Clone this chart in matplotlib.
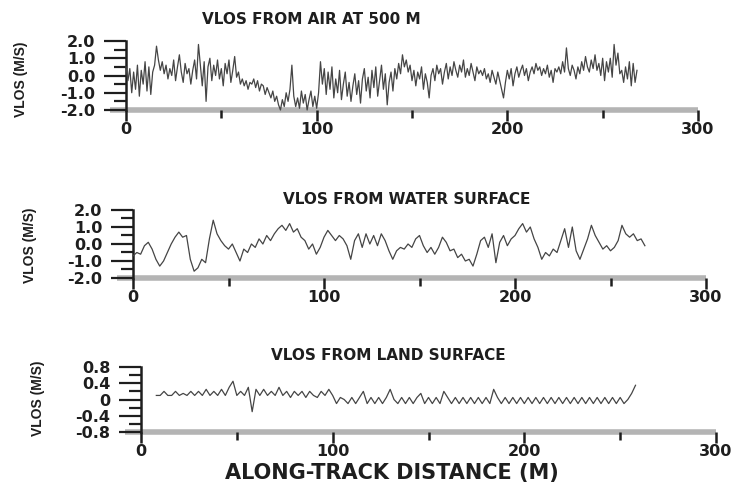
import numpy as np
import matplotlib
matplotlib.use("Agg")
import matplotlib.pyplot as plt
from matplotlib.ticker import MultipleLocator, FixedLocator

# ---------------- data ----------------
air_start, air_step = 0.0, 1.0
air_vlos = [
    0.5, -0.3, 0.4, -1.0, 0.2, -0.8, 0.6, -1.2, 0.3, -0.5,
    0.8, -0.9, 0.5, -1.1, 0.2, 0.6, 1.7, 0.9, 0.3, 0.8,
    0.1, 0.6, -0.2, 0.4, 0.0, 0.9, -0.3, 0.5, 1.2, 0.2,
    -0.4, 0.7, 0.1, 0.4, -0.5, 0.3, 0.9, -0.2, 1.8, 0.6,
    -0.6, 0.8, -1.5, 0.5, 1.0, -0.3, 0.6, 0.0, 0.9, -0.2,
    0.4, -0.6, 0.7, 0.1, 0.9, -0.4, 0.3, 1.1, -0.1, 0.2,
    -0.5, -0.2, -0.6, -0.3, -0.8, -0.4, -0.5, -0.2, -0.7, -0.3,
    -0.9, -0.5, -0.6, -1.1, -0.7, -1.0, -1.3, -0.9, -1.5, -1.2,
    -1.7, -2.0, -1.4, -1.8, -1.0, -1.5, -0.8, 0.6, -1.2, -1.8,
    -1.3, -1.9, -0.9, -1.6, -1.1, -2.0, -1.4, -0.9, -1.8, -1.2,
    -1.9, -1.0, 0.8, -0.5, 0.4, -1.1, 0.2, -0.8, 0.5, -1.3,
    -0.2, -1.0, 0.3, -1.4, -0.5, 0.2, -1.2, -0.4, -1.5, -0.6,
    0.1, -1.1, -0.3, -1.6, -0.2, 0.4, -0.9, -0.1, -1.3, 0.3,
    -0.7, 0.5, -1.2, -0.3, 0.6, -0.8, 0.1, -1.7, -0.4, 0.2,
    -0.9, 0.4, -0.2, 0.7, 0.1, 1.2, 0.5, 0.9, 0.2, 0.6,
    -0.3, 0.3, -0.6, 0.2, -0.2, 0.5, -0.8, 0.1, -0.4, -1.3,
    0.0, 0.4, -0.3, 0.6, 0.1, 0.4, -0.5, 0.2, 0.7, -0.2,
    0.5, 0.0, 0.8, 0.3, -0.1, 0.6, 0.2, 0.9, -0.1, 0.4,
    0.0, 0.7, 0.2, -0.3, 0.5, 0.1, 0.3, 0.0, 0.4, -0.2,
    0.1, -0.4, 0.3, -0.1, -0.5, 0.2, -0.3, -0.8, -1.3, -0.4,
    0.3, -0.2, 0.4, -0.6, 0.1, 0.5, -0.1, 0.3, 0.6, 0.0,
    0.4, -0.3, 0.2, 0.5, 0.1, 0.7, 0.3, 0.5, 0.0, 0.4,
    0.1, 0.6, -0.1, 0.3, -0.4, 0.4, 0.2, 0.5, 0.1, 0.8,
    0.2, 1.6, 0.4, 0.0, 0.6, 0.3, -0.2, 0.5, 0.1, 0.8,
    0.3, 1.1, 0.5, 0.2, 0.9, 0.4, 1.2, 0.3, 0.7, 0.0,
    1.0, -0.3, 0.8, 0.2, 1.0, -0.1, 1.8, 0.6, 1.3, 0.1,
    0.3, -0.4, 0.5, -0.2, 0.8, -0.6, 0.7, -0.4, 0.3,
]

water_start, water_step = 0.0, 2.0
water_vlos = [
    -0.7, -0.5, -0.6, -0.1, 0.1, -0.3, -0.9, -1.3, -1.0, -0.5,
    0.0, 0.4, 0.7, 0.4, 0.5, -0.9, -1.6, -1.4, -0.9, -1.1,
    0.3, 1.4, 0.6, 0.2, -0.1, -0.3, 0.0, -0.5, -1.0, -0.3,
    -0.5, 0.0, -0.2, 0.3, 0.0, 0.5, 0.2, 0.6, 0.9, 1.1,
    0.8, 1.2, 0.7, 0.9, 0.4, 0.2, -0.3, 0.0, -0.6, -0.2,
    0.4, 0.8, 0.5, 0.2, 0.5, 0.3, -0.1, -0.9, 0.2, 0.6,
    -0.2, 0.6, 0.0, 0.5, -0.1, 0.6, 0.2, -0.4, -0.9, -0.4,
    -0.2, -0.3, 0.0, -0.2, 0.3, 0.5, -0.1, -0.5, -0.2, -0.6,
    -0.2, 0.4, 0.1, -0.4, -0.3, -0.8, -0.6, -1.0, -0.9, -1.3,
    -0.6, 0.2, 0.4, -0.2, 0.6, -1.1, 0.1, 0.5, -0.1, 0.3,
    0.5, 0.9, 1.2, 0.7, 1.0, 0.3, -0.2, -0.9, -0.5, -0.7,
    -0.3, -0.5, 0.2, 0.9, -0.2, 1.0, -0.4, -0.9, -0.3, 0.3,
    1.1, 0.5, 0.1, -0.3, -0.1, -0.4, -0.2, 0.2, 1.1, 0.6,
    0.4, 0.6, 0.2, 0.3, -0.1,
]

land_start, land_step = 8.0, 2.0
land_vlos = [
    0.1, 0.1, 0.2, 0.1, 0.1, 0.2, 0.1, 0.15, 0.1, 0.2,
    0.1, 0.2, 0.1, 0.25, 0.1, 0.2, 0.1, 0.25, 0.1, 0.3,
    0.45, 0.1, 0.2, 0.1, 0.3, -0.3, 0.25, 0.1, 0.25, 0.1,
    0.2, 0.1, 0.3, 0.1, 0.2, 0.05, 0.2, 0.1, 0.2, 0.05,
    0.2, 0.1, 0.05, 0.2, 0.1, 0.25, 0.1,
    -0.1, 0.05, 0.0, -0.1, 0.05, -0.1, 0.05, 0.2, -0.1, 0.05,
    -0.1, 0.05, -0.1, 0.05, 0.25, 0.0, -0.1, 0.05, -0.1, 0.05,
    -0.1, 0.05, 0.15, -0.1, 0.05, -0.1, 0.05, -0.1, 0.2, 0.05,
    -0.1, 0.05, -0.1, 0.05, -0.1, 0.05, -0.1, 0.05, -0.1, 0.05,
    -0.1, 0.25, 0.05, -0.1, 0.05, -0.1, 0.05, -0.1, 0.05, -0.1,
    0.05, -0.1, 0.05, -0.1, 0.05, -0.1, 0.05, -0.1, 0.05, -0.1,
    0.05, -0.1, 0.05, -0.1, 0.05, -0.1, 0.05, -0.1, 0.05, -0.1,
    0.05, -0.1, 0.05, -0.1, 0.05, -0.1, 0.0, 0.15, 0.35,
]

titles = ["VLOS FROM AIR AT 500 M", "VLOS FROM WATER SURFACE", "VLOS FROM LAND SURFACE"]
ylabel = "VLOS (M/S)"
xlabel = "ALONG-TRACK DISTANCE (M)"
xticks = [0, 100, 200, 300]
yticks_big = [-2.0, -1.0, 0.0, 1.0, 2.0]
yticklabels_big = ["-2.0", "-1.0", "0.0", "1.0", "2.0"]
yticks_land = [-0.8, -0.4, 0.0, 0.4, 0.8]
yticklabels_land = ["-0.8", "-0.4", "0", "0.4", "0.8"]

# ---------------- figure ----------------
W, H = 736, 493
fig = plt.figure(figsize=(W / 100, H / 100), dpi=100)
WIDE = "DejaVu Sans"
NARROW = "Liberation Sans"
INK = "#1e1e1e"


def px_axes(l, r, t, b):
    return fig.add_axes([l / W, 1 - b / H, (r - l) / W, (b - t) / H])


panels = [
    dict(box=(126, 698, 41, 110), start=air_start, step=air_step, y=air_vlos,
         ylim=(-2, 2), yt=yticks_big, ytl=yticklabels_big, minor=0.5,
         title_xy=(311, 20), ylab_xy=(21, 79)),
    dict(box=(133, 706, 210, 278), start=water_start, step=water_step, y=water_vlos,
         ylim=(-2, 2), yt=yticks_big, ytl=yticklabels_big, minor=0.5,
         title_xy=(407, 199), ylab_xy=(30, 245)),
    dict(box=(141, 716, 367, 432), start=land_start, step=land_step, y=land_vlos,
         ylim=(-0.8, 0.8), yt=yticks_land, ytl=yticklabels_land, minor=0.2,
         title_xy=(388, 355), ylab_xy=(38, 398)),
]

YTICK_LEN = 16
for i, p in enumerate(panels):
    ax = px_axes(*p["box"])
    l, r, t, b = p["box"]
    yv = np.array(p["y"])
    xv = p["start"] + p["step"] * np.arange(len(yv))
    ax.plot(xv, yv, color="#454545", lw=0.9, clip_on=False, zorder=3)
    ax.set_xlim(0, 300)
    ax.set_ylim(*p["ylim"])
    for s in ("top", "right", "bottom"):
        ax.spines[s].set_visible(False)
    ax.spines["left"].set_linewidth(1.8)
    ax.spines["left"].set_color(INK)
    # thick grey base line, running from the end of the y ticks to x = 300
    ax.plot([-YTICK_LEN / (r - l), 1.0], [0, 0], transform=ax.transAxes,
            color="#b4b4b4", lw=4.0, clip_on=False, zorder=1, solid_capstyle="butt")
    ax.set_xticks(xticks)
    ax.xaxis.set_minor_locator(FixedLocator([50, 150, 250]))
    ax.set_yticks(p["yt"])
    ax.set_yticklabels(p["ytl"])
    ax.yaxis.set_minor_locator(MultipleLocator(p["minor"]))
    ax.tick_params(axis="x", which="major", direction="out", length=8, width=1.8,
                   color=INK, pad=1, labelsize=11.5)
    ax.tick_params(axis="x", which="minor", direction="out", length=6, width=1.8,
                   color=INK)
    ax.tick_params(axis="y", which="major", direction="out", length=YTICK_LEN, width=1.6,
                   color=INK, pad=6, labelsize=11.5)
    ax.tick_params(axis="y", which="minor", direction="out", length=9, width=1.6,
                   color=INK)
    for lab in ax.get_xticklabels() + ax.get_yticklabels():
        lab.set_fontfamily(WIDE)
        lab.set_fontweight("bold")
        lab.set_color(INK)
    tx, ty = p["title_xy"]
    fig.text(tx / W, 1 - ty / H, titles[i], ha="center", va="center",
             fontsize=11, fontweight="bold", color=INK, family=WIDE)
    lx, ly = p["ylab_xy"]
    fig.text(lx / W, 1 - ly / H, ylabel, ha="center", va="center", rotation=90,
             fontsize=10, fontweight="bold", color=INK, family=NARROW)

fig.text(392 / W, 1 - 473 / H, xlabel, ha="center", va="center",
         fontsize=15, fontweight="bold", color=INK, family=WIDE)

fig.savefig("out.png", dpi=100, facecolor="white")
